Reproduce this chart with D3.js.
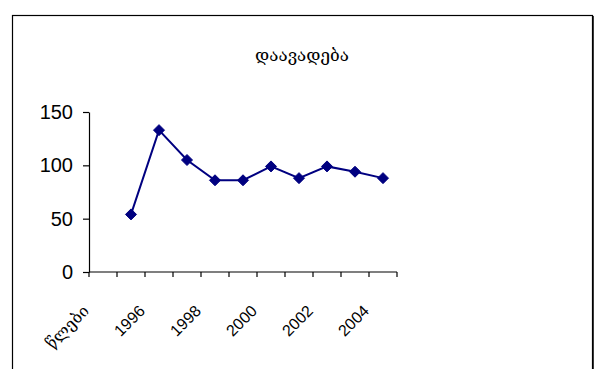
<!DOCTYPE html>
<html>
<head>
<meta charset="utf-8">
<script src="https://cdn.jsdelivr.net/npm/d3@7"></script>
<style>
  html, body { margin: 0; padding: 0; background: #fff; }
  svg { display: block; }
</style>
</head>
<body>
<svg id="chart" width="595" height="369"></svg>
<script>
// Categories along the x axis (first slot holds the axis caption "years")
const categories = ["წლები", "1995", "1996", "1997", "1998", "1999", "2000", "2001", "2002", "2003", "2004"];
// Disease cases per year; the caption slot carries no value
const values = [null, 54, 133, 105, 86, 86, 99, 88, 99, 94, 88];
// Y-axis tick values
const yTicks = [0, 50, 100, 150];
const chartTitle = "დაავადება";

const svg = d3.select("#chart");
const W = 595, H = 369;

// Outer chart frame (runs past the bottom edge)
svg.append("rect")
  .attr("x", 12.5).attr("y", 15.5)
  .attr("width", 580).attr("height", 400)
  .attr("fill", "#fff")
  .attr("stroke", "#000").attr("stroke-width", 1.2);
svg.append("line")
  .attr("x1", 593).attr("x2", 593).attr("y1", 16).attr("y2", H)
  .attr("stroke", "#000").attr("stroke-width", 1.5);

const plot = { left: 89, right: 397, top: 112, bottom: 272 };

const x = d3.scaleBand()
  .domain(categories)
  .range([plot.left, plot.right])
  .paddingInner(0).paddingOuter(0);

const y = d3.scaleLinear()
  .domain([0, 150])
  .range([plot.bottom, plot.top]);

// Title
svg.append("text")
  .attr("x", 302).attr("y", 61)
  .attr("text-anchor", "middle")
  .attr("font-family", "'DejaVu Serif', serif")
  .attr("font-size", 17)
  .attr("fill", "#000")
  .text(chartTitle);

// Y axis
const yAxis = d3.axisLeft(y).tickValues(yTicks).tickSize(6).tickPadding(10).tickSizeOuter(0);
const gy = svg.append("g")
  .attr("transform", `translate(${plot.left},0)`)
  .call(yAxis);
gy.select(".domain").attr("stroke", "#000").attr("stroke-width", 1.2);
gy.selectAll(".tick line").attr("stroke", "#000").attr("stroke-width", 1.2);
gy.selectAll(".tick text")
  .attr("font-family", "'Liberation Sans', Arial, sans-serif")
  .attr("font-size", 20)
  .attr("fill", "#000");

// X axis: tick marks on category boundaries
const boundaries = categories.map(c => x(c)).concat([plot.right]);
svg.append("line")
  .attr("x1", plot.left).attr("x2", plot.right)
  .attr("y1", y(0)).attr("y2", y(0))
  .attr("stroke", "#000").attr("stroke-width", 1.2);
svg.append("g").selectAll("line")
  .data(boundaries)
  .join("line")
  .attr("x1", d => d).attr("x2", d => d)
  .attr("y1", y(0)).attr("y2", y(0) + 5)
  .attr("stroke", "#000").attr("stroke-width", 1.2);

// Rotated x labels, every second category
svg.append("g").selectAll("text")
  .data(categories.filter((c, i) => i % 2 === 0))
  .join("text")
  .attr("transform", d => {
    const cx = x(d) + x.bandwidth() / 2 - 13;
    return `translate(${cx},${y(0) + 40}) rotate(-45)`;
  })
  .attr("text-anchor", "end")
  .attr("font-family", d => /^\d+$/.test(d) ? "'Liberation Sans', Arial, sans-serif" : "'DejaVu Serif', serif")
  .attr("font-size", 16)
  .attr("fill", "#000")
  .text(d => d);

// Series line
const pts = categories.map((c, i) => ({ c, v: values[i] })).filter(d => d.v !== null);
const line = d3.line()
  .x(d => x(d.c) + x.bandwidth() / 2)
  .y(d => y(d.v));

svg.append("path")
  .datum(pts)
  .attr("d", line)
  .attr("fill", "none")
  .attr("stroke", "#000080")
  .attr("stroke-width", 2);

// Diamond markers
svg.append("g").selectAll("path")
  .data(pts)
  .join("path")
  .attr("transform", d => `translate(${x(d.c) + x.bandwidth() / 2},${y(d.v)})`)
  .attr("d", "M0,-5.5L5.5,0L0,5.5L-5.5,0Z")
  .attr("fill", "#000080")
  .attr("stroke", "#000080")
  .attr("stroke-width", 1);
</script>
</body>
</html>
